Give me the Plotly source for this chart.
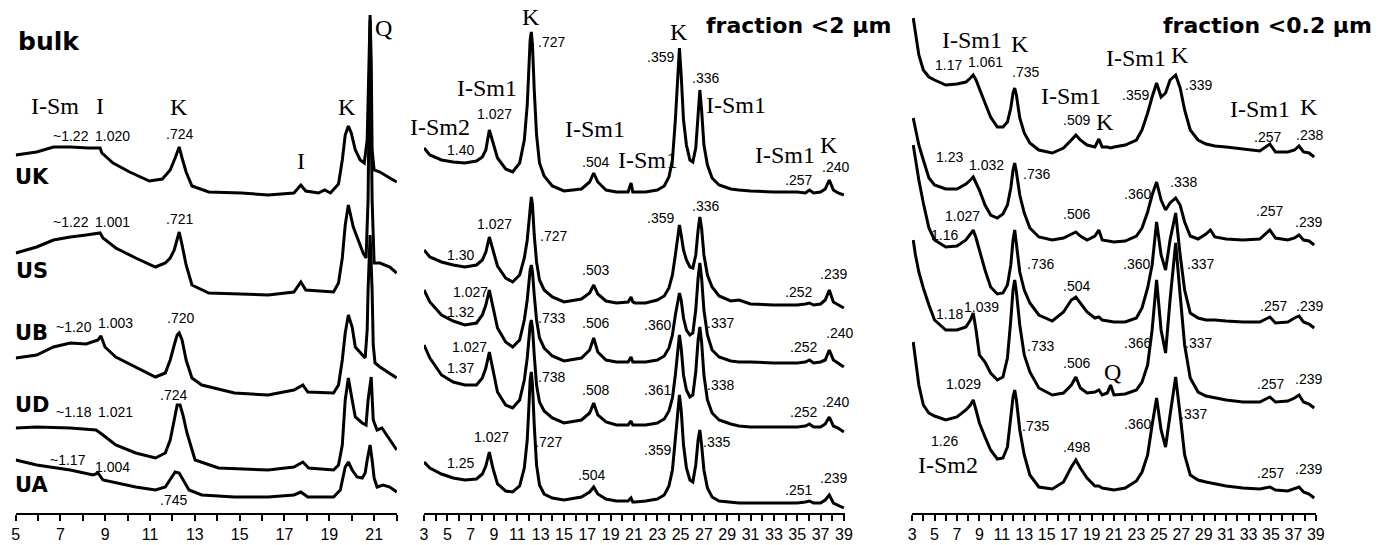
import plotly.graph_objects as go

# ---------------- Panel 1: bulk (2-theta, intensity a.u. with stacking offset) ----------------
bulk_UK_x = [5.01, 5.94, 6.69, 7.44, 8.24, 8.77, 8.85, 9.35, 10.09, 10.97, 11.55, 11.90, 12.12, 12.30, 12.43, 12.61, 12.87, 13.62, 15.08, 16.27, 17.42, 17.73, 17.95, 18.52, 18.79, 19.05, 19.41, 19.58, 19.71, 19.85, 19.98, 20.16, 20.38, 20.56, 20.69, 20.78, 20.82, 20.87, 20.91, 21.00, 21.26, 21.70, 22.01]
bulk_UK_y = [358, 361, 366, 366, 365, 365, 360, 350, 341, 332, 334, 343, 355, 366, 355, 341, 327, 321, 320, 318, 320, 328, 322, 320, 323, 320, 329, 353, 378, 387, 380, 363, 353, 350, 373, 453, 498, 453, 363, 343, 341, 335, 331]

bulk_US_x = [5.01, 5.94, 6.69, 7.44, 8.15, 8.77, 8.90, 9.47, 10.36, 11.24, 11.68, 11.90, 12.08, 12.21, 12.30, 12.43, 12.61, 12.87, 13.62, 16.27, 17.42, 17.73, 17.95, 19.19, 19.41, 19.58, 19.71, 19.85, 20.07, 20.29, 20.51, 20.64, 20.73, 20.82, 20.91, 21.00, 21.26, 21.70, 22.01]
bulk_US_y = [260, 266, 273, 276, 278, 280, 275, 265, 255, 246, 250, 255, 263, 273, 281, 268, 248, 228, 220, 218, 221, 231, 223, 221, 230, 255, 288, 308, 286, 273, 260, 255, 313, 493, 313, 250, 250, 246, 240]

bulk_UB_x = [5.01, 5.94, 6.69, 7.44, 8.15, 8.68, 8.81, 8.99, 9.47, 10.36, 11.24, 11.68, 11.90, 12.08, 12.21, 12.30, 12.43, 12.61, 12.87, 13.31, 14.77, 16.27, 17.42, 17.82, 18.04, 19.19, 19.41, 19.58, 19.71, 19.85, 20.02, 20.16, 20.38, 20.60, 20.69, 20.73, 20.82, 20.91, 20.96, 21.04, 21.26, 21.70, 22.01]
bulk_UB_y = [155, 158, 166, 170, 169, 173, 177, 166, 156, 146, 136, 140, 153, 168, 178, 180, 173, 153, 135, 128, 120, 118, 123, 128, 121, 120, 128, 153, 180, 198, 186, 166, 160, 155, 183, 223, 278, 223, 168, 150, 146, 140, 135]

bulk_UD_x = [5.01, 5.94, 7.44, 8.59, 8.90, 9.47, 10.36, 11.24, 11.68, 11.90, 12.08, 12.21, 12.34, 12.47, 12.65, 13.01, 14.06, 16.27, 17.42, 17.82, 18.08, 19.19, 19.41, 19.58, 19.71, 19.85, 20.02, 20.16, 20.47, 20.64, 20.73, 20.87, 20.96, 21.13, 21.35, 21.70, 22.01]
bulk_UD_y = [85, 86, 85, 83, 78, 68, 60, 55, 60, 73, 93, 108, 108, 98, 80, 53, 45, 43, 46, 51, 45, 43, 48, 68, 113, 135, 113, 96, 90, 88, 113, 136, 93, 83, 85, 73, 63]

bulk_UA_x = [5.01, 5.94, 7.44, 8.46, 8.68, 8.90, 10.36, 11.24, 11.68, 11.90, 12.12, 12.30, 12.52, 12.74, 13.31, 14.77, 16.27, 17.42, 17.73, 18.04, 19.19, 19.49, 19.71, 19.85, 20.02, 20.24, 20.47, 20.60, 20.69, 20.82, 20.91, 21.00, 21.13, 21.40, 21.70, 22.01]
bulk_UA_y = [53, 48, 43, 38, 40, 33, 26, 23, 26, 33, 41, 40, 31, 23, 18, 16, 16, 18, 21, 16, 16, 23, 46, 51, 43, 36, 35, 40, 53, 68, 53, 35, 26, 28, 26, 21]

# ---------------- Panel 2: fraction <2 um ----------------
f2_x = [3.0, 3.5, 4.5, 5.5, 6.5, 7.5, 8.0, 8.3, 8.6, 8.9, 9.3, 10.0, 10.6, 11.2, 11.6, 11.85, 12.0, 12.1, 12.2, 12.3,
        12.45, 12.65, 12.9, 13.3, 14.0, 15.0, 16.5, 17.2, 17.55, 17.9, 18.6, 19.5, 20.5, 20.75, 20.9, 21.1, 22.0, 23.0,
        23.6, 24.0, 24.3, 24.55, 24.75, 24.9, 25.05, 25.25, 25.5, 25.8, 26.05, 26.3, 26.5, 26.65, 26.8, 27.0, 27.3, 27.7,
        28.3, 29.3, 30.0, 31.0, 33.0, 35.0, 35.7, 36.05, 36.4, 37.0, 37.4, 37.75, 38.1, 38.5, 39.0]
f2_UA = [365, 358, 353, 351, 350, 352, 356, 363, 383, 370, 355, 344, 341, 350, 373, 408, 453, 473, 481, 468,
         423, 378, 350, 337, 327, 322, 324, 331, 340, 331, 323, 321, 321, 330, 321, 321, 321, 323, 327, 336,
         353, 393, 438, 465, 438, 393, 368, 353, 351, 365, 398, 423, 403, 368, 348, 335, 328, 324, 323, 322,
         321, 321, 320, 323, 320, 321, 324, 333, 323, 320, 318]
f2_UD = [263, 256, 251, 248, 246, 248, 253, 261, 276, 263, 247, 235, 231, 238, 255, 273, 295, 310, 316, 308,
         278, 251, 233, 223, 216, 211, 214, 220, 228, 219, 212, 210, 211, 216, 211, 210, 210, 213, 217, 225,
         238, 258, 278, 288, 278, 263, 253, 246, 245, 258, 283, 296, 285, 258, 238, 226, 217, 212, 213, 209,
         208, 208, 209, 210, 208, 209, 213, 223, 211, 208, 205]
f2_US = [223, 211, 198, 192, 188, 190, 198, 208, 223, 208, 185, 171, 166, 173, 193, 213, 233, 243, 248, 241,
         218, 193, 175, 165, 157, 152, 155, 163, 175, 161, 153, 151, 151, 156, 151, 151, 151, 153, 157, 165,
         178, 198, 213, 220, 213, 195, 183, 178, 180, 203, 235, 250, 235, 203, 178, 163, 156, 152, 151, 151,
         150, 150, 151, 153, 150, 151, 153, 163, 153, 150, 146]
f2_UK = [168, 155, 138, 131, 128, 128, 135, 145, 161, 143, 121, 108, 105, 113, 133, 155, 175, 188, 193, 185,
         158, 128, 111, 102, 95, 90, 93, 100, 110, 98, 91, 88, 88, 92, 88, 88, 88, 90, 94, 102,
         115, 138, 165, 178, 165, 138, 123, 116, 118, 141, 173, 186, 171, 138, 113, 100, 93, 89, 87, 86,
         86, 86, 87, 89, 86, 86, 89, 96, 87, 85, 81]
f2_UB = [51, 45, 39, 35, 33, 34, 39, 47, 61, 45, 29, 22, 21, 27, 45, 73, 108, 133, 141, 128,
         88, 48, 28, 19, 15, 13, 16, 21, 26, 19, 14, 12, 12, 15, 11, 11, 12, 14, 18, 27,
         43, 73, 103, 118, 103, 68, 45, 33, 31, 48, 73, 83, 68, 43, 25, 16, 12, 11, 10, 10,
         10, 10, 11, 12, 10, 10, 13, 18, 10, 8, 5]

# ---------------- Panel 3: fraction <0.2 um ----------------
f02_x = [3.1, 3.3, 3.6, 4.0, 4.5, 5.0, 6.0, 7.0, 7.8, 8.2, 8.45, 8.7, 9.0, 9.5, 10.0, 10.6, 11.1, 11.5, 11.8, 12.0,
         12.15, 12.3, 12.6, 13.0, 13.5, 14.3, 15.5, 16.5, 17.2, 17.6, 18.0, 18.6, 19.3, 19.65, 19.95, 20.4, 20.7, 21.0,
         22.0, 23.0, 23.5, 24.0, 24.4, 24.8, 25.2, 25.6, 26.0, 26.5, 26.9, 27.3, 27.8, 28.5, 29.2, 29.6, 30.0, 31.0,
         32.5, 34.0, 34.9, 35.4, 36.5, 37.1, 37.5, 37.9, 38.4, 38.85]
f02_UA = [495, 478, 458, 443, 436, 433, 428, 429, 431, 435, 438, 433, 425, 410, 396, 386, 386, 391, 405, 420,
          425, 418, 395, 380, 370, 363, 360, 365, 373, 378, 373, 368, 366, 374, 366, 366, 365, 366, 368, 373,
          383, 400, 416, 430, 416, 420, 433, 438, 425, 403, 383, 373, 369, 368, 367, 366, 364, 362, 369, 361,
          361, 363, 367, 361, 360, 356]
f02_UD = [395, 383, 368, 353, 335, 328, 324, 324, 329, 333, 336, 330, 323, 308, 298, 295, 299, 308, 325, 343,
          350, 341, 318, 300, 285, 276, 273, 275, 279, 281, 277, 273, 277, 283, 273, 272, 271, 271, 272, 277,
          285, 301, 318, 331, 313, 303, 310, 315, 308, 291, 277, 274, 279, 283, 276, 274, 273, 274, 283, 275,
          273, 275, 278, 273, 272, 268]
f02_US = [368, 353, 333, 310, 285, 273, 266, 267, 273, 279, 283, 275, 263, 243, 226, 219, 220, 228, 248, 273,
          283, 268, 241, 223, 210, 198, 192, 201, 213, 216, 210, 201, 195, 196, 193, 192, 191, 191, 191, 195,
          205, 225, 248, 291, 258, 243, 273, 300, 258, 223, 200, 195, 193, 193, 193, 192, 191, 191, 196, 190,
          191, 195, 197, 191, 189, 185]
f02_UK = [273, 258, 241, 225, 208, 193, 183, 183, 186, 193, 200, 183, 158, 151, 140, 133, 136, 155, 193, 223,
          233, 221, 188, 158, 141, 125, 118, 120, 128, 136, 125, 120, 121, 123, 118, 120, 128, 118, 119, 123,
          131, 148, 183, 233, 183, 160, 213, 270, 218, 168, 135, 121, 117, 116, 115, 113, 111, 111, 116, 111,
          112, 115, 118, 111, 109, 105]
f02_UB = [171, 153, 128, 108, 100, 97, 93, 96, 103, 108, 113, 103, 90, 76, 63, 54, 55, 66, 95, 116,
          123, 113, 83, 58, 38, 26, 24, 31, 46, 53, 45, 35, 27, 27, 25, 24, 23, 23, 25, 32,
          41, 58, 88, 115, 83, 66, 98, 136, 98, 58, 38, 33, 31, 30, 29, 27, 25, 24, 26, 23,
          22, 24, 26, 21, 19, 15]

# ---------------- Text labels: (text, 2theta, intensity) ----------------
p1_minerals = [("I-Sm", 6.74, 407), ("I", 8.77, 407), ("K", 12.30, 406), ("K", 19.80, 406),
               ("Q", 21.43, 485), ("I", 17.73, 352)]
p1_numbers = [("~1.22", 7.49, 377), ("1.020", 9.34, 377), (".724", 12.30, 379),
              ("~1.22", 7.49, 291), ("1.001", 9.34, 291), (".721", 12.30, 294),
              ("~1.20", 7.62, 186), ("1.003", 9.47, 190), (".720", 12.34, 195),
              ("~1.18", 7.62, 101), ("1.021", 9.47, 101), (".724", 12.03, 118),
              ("~1.17", 7.35, 53), ("1.004", 9.34, 46), (".745", 12.03, 13)]
p1_samples = [("UK", 5.72, 336), ("US", 5.72, 242), ("UB", 5.72, 180), ("UD", 5.72, 108), ("UA", 5.72, 28)]

p2_minerals = [("K", 12.18, 496), ("K", 24.84, 481), ("I-Sm1", 29.76, 408), ("I-Sm1", 8.44, 425),
               ("I-Sm2", 4.36, 386), ("I-Sm1", 17.70, 384), ("I-Sm1", 22.20, 353), ("I-Sm1", 33.93, 358),
               ("K", 37.75, 368)]
p2_numbers = [(".727", 13.96, 471), (".359", 23.31, 456), (".336", 27.13, 435), ("1.027", 9.03, 399),
              ("1.40", 6.14, 363), (".504", 17.70, 351), (".257", 35.12, 333), (".240", 38.26, 346),
              ("1.027", 9.03, 289), ("1.30", 6.14, 258), (".727", 14.13, 277), (".503", 17.70, 243),
              (".359", 23.31, 295), (".336", 27.13, 307), (".239", 38.09, 239), (".252", 35.12, 221),
              ("1.027", 6.99, 221), ("1.32", 6.14, 201), (".733", 13.96, 195), (".506", 17.70, 190),
              (".360", 23.05, 188), (".337", 28.40, 190), (".240", 38.60, 180), (".252", 35.54, 166),
              ("1.027", 6.91, 166), ("1.37", 6.14, 145), (".738", 13.96, 136), (".508", 17.70, 123),
              (".361", 23.05, 123), (".338", 28.40, 128), (".240", 38.26, 111), (".252", 35.54, 101),
              ("1.027", 8.78, 76), ("1.25", 6.14, 50), (".727", 13.71, 71), (".504", 17.36, 38),
              (".359", 23.05, 63), (".335", 28.06, 71), (".251", 35.12, 23), (".239", 38.09, 35)]
p2_samples = [("UA", 40.81, 318), ("UD", 40.81, 207), ("US", 40.81, 146), ("UK", 40.81, 81), ("UB", 40.81, 11)]

p3_minerals = [("I-Sm1", 8.33, 473), ("K", 12.58, 469), ("I-Sm1", 17.18, 417), ("K", 20.18, 391),
               ("I-Sm1", 23.0, 455), ("K", 26.9, 458), ("I-Sm1", 34.06, 404), ("K", 38.4, 406),
               ("Q", 20.89, 141), ("I-Sm2", 6.21, 48)]
p3_numbers = [("1.17", 6.21, 448), ("1.061", 9.57, 451), (".735", 13.11, 441), (".509", 17.62, 393),
              (".359", 22.92, 418), (".339", 28.58, 428), (".257", 34.66, 376), (".238", 38.4, 378),
              ("1.23", 6.3, 356), ("1.032", 9.66, 348), (".736", 14.08, 339), (".506", 17.62, 299),
              (".360", 23.1, 319), (".338", 27.16, 331), (".257", 34.86, 302), (".239", 38.31, 291),
              ("1.027", 7.45, 297), ("1.16", 5.85, 278), (".736", 14.43, 249), (".360", 23.01, 249),
              (".337", 28.67, 249), (".504", 17.62, 227), (".257", 35.22, 207), (".239", 38.4, 207),
              ("1.18", 6.3, 199), ("1.039", 9.22, 206), (".733", 14.43, 167), (".366", 23.1, 170),
              (".337", 28.58, 170), (".506", 17.62, 150), (".257", 34.95, 129), (".239", 38.31, 134),
              ("1.029", 7.54, 129), (".735", 13.99, 87), (".360", 23.1, 89), (".337", 28.13, 99),
              (".498", 17.62, 66), ("1.26", 5.85, 72), (".257", 34.95, 40), (".239", 38.31, 44)]
p3_samples = [("UA", 41.04, 353), ("UD", 41.04, 270), ("US", 41.04, 186), ("UK", 41.04, 100), ("UB", 41.04, 21)]

titles = [("bulk", 6.47, 472, 1, 25), ("fraction <2 µm", 35.12, 488, 2, 22), ("fraction <0.2 µm", 34.68, 488, 3, 22)]

# ---------------- Figure ----------------
fig = go.Figure()
line = dict(color="black", width=3)

panel_traces = [
    (1, [(bulk_UK_x, bulk_UK_y), (bulk_US_x, bulk_US_y), (bulk_UB_x, bulk_UB_y),
         (bulk_UD_x, bulk_UD_y), (bulk_UA_x, bulk_UA_y)]),
    (2, [(f2_x, f2_UA), (f2_x, f2_UD), (f2_x, f2_US), (f2_x, f2_UK), (f2_x, f2_UB)]),
    (3, [(f02_x, f02_UA), (f02_x, f02_UD), (f02_x, f02_US), (f02_x, f02_UK), (f02_x, f02_UB)]),
]
for p, curves in panel_traces:
    sfx = "" if p == 1 else str(p)
    for xs, ys in curves:
        fig.add_trace(go.Scatter(x=xs, y=ys, mode="lines", line=line, hoverinfo="skip",
                                 xaxis="x" + sfx, yaxis="y" + sfx, showlegend=False))

NUM_FONT = dict(family="Liberation Sans, Arial, sans-serif", size=14, color="black")
MIN_FONT = dict(family="Liberation Serif, Times New Roman, serif", size=24, color="black")
SAMPLE_FONT = dict(family="DejaVu Sans, sans-serif", size=21, color="black", weight="bold")

annotations = []
def add_labels(items, panel, font):
    sfx = "" if panel == 1 else str(panel)
    for t, x, y in items:
        annotations.append(dict(text=t, x=x, y=y, xref="x" + sfx, yref="y" + sfx, showarrow=False,
                                xanchor="center", yanchor="middle", font=font))

add_labels(p1_minerals, 1, MIN_FONT)
add_labels(p1_numbers, 1, NUM_FONT)
add_labels(p1_samples, 1, SAMPLE_FONT)
add_labels(p2_minerals, 2, MIN_FONT)
add_labels(p2_numbers, 2, NUM_FONT)
add_labels(p2_samples, 2, SAMPLE_FONT)
add_labels(p3_minerals, 3, MIN_FONT)
add_labels(p3_numbers, 3, NUM_FONT)
add_labels(p3_samples, 3, SAMPLE_FONT)
for t, x, y, p, s in titles:
    sfx = "" if p == 1 else str(p)
    annotations.append(dict(text="<b>" + t + "</b>", x=x, y=y, xref="x" + sfx, yref="y" + sfx,
                            showarrow=False, xanchor="center", yanchor="middle",
                            font=dict(family="DejaVu Sans, sans-serif", size=s, color="black")))

W, H = 1386, 545
def xaxis(domain, rng, tick0):
    return dict(domain=domain, range=rng, showline=True, linecolor="black", linewidth=2,
                ticks="outside", ticklen=6, tickwidth=2, tickcolor="black", tick0=tick0, dtick=2,
                minor=dict(dtick=1, ticks="outside", ticklen=6, tickwidth=2, tickcolor="black"),
                showgrid=False, zeroline=False, fixedrange=True,
                tickfont=dict(family="Liberation Sans, Arial, sans-serif", size=16, color="black"))

ydom = [32 / H, 1.0]
yax = dict(domain=ydom, range=[0, 513], visible=False, fixedrange=True)

fig.update_layout(
    width=W, height=H, margin=dict(l=0, r=0, t=0, b=0),
    paper_bgcolor="white", plot_bgcolor="white",
    xaxis=dict(xaxis([11.7 / W, 396.7 / W], [5, 22.02], 5), anchor="y"),
    xaxis2=dict(xaxis([424 / W, 849 / W], [3, 39.1], 3), anchor="y2"),
    xaxis3=dict(xaxis([916.7 / W, 1324.5 / W], [3, 39.02], 3), anchor="y3"),
    yaxis=dict(yax, anchor="x"),
    yaxis2=dict(yax, anchor="x2"),
    yaxis3=dict(yax, anchor="x3"),
    annotations=annotations,
)

fig.write_html("out.html", config={"displayModeBar": False},
               post_script="document.body.style.margin='0';document.body.style.overflow='hidden';")
